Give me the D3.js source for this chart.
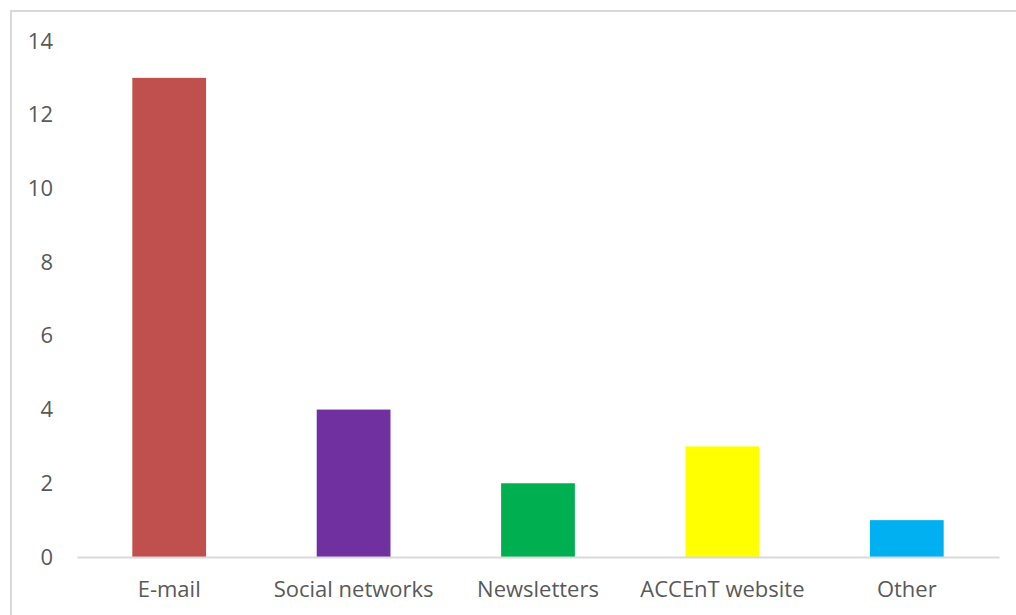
<!DOCTYPE html>
<html>
<head>
<meta charset="utf-8">
<script src="https://cdn.jsdelivr.net/npm/d3@7"></script>
<style>
  html, body { margin: 0; padding: 0; background: #fff; }
  svg { display: block; }
  text { font-family: "Open Sans", Lato, sans-serif; fill: #595959; }
</style>
</head>
<body>
<svg id="chart" width="1016" height="615"></svg>
<script>
// Channels through which respondents heard about the event
const categories = ["E-mail", "Social networks", "Newsletters", "ACCEnT website", "Other"];
const counts = [13, 4, 2, 3, 1];
const barColors = ["#c0504d", "#7030a0", "#00b050", "#ffff00", "#00b0f0"];
const yTicks = [0, 2, 4, 6, 8, 10, 12, 14];

const svg = d3.select("#chart");
const W = 1016, H = 615;

// outer frame (open at right/bottom where the canvas ends)
svg.append("rect")
  .attr("x", 11).attr("y", 11)
  .attr("width", W + 10).attr("height", H + 10)
  .attr("fill", "none").attr("stroke", "#d9d9d9").attr("stroke-width", 2);

const plot = { left: 77, right: 999, top: 41, bottom: 557 };

const x = d3.scaleBand()
  .domain(categories)
  .range([plot.left, plot.right])
  .paddingInner(0.6)
  .paddingOuter(0.3);

const y = d3.scaleLinear()
  .domain([0, 14])
  .range([plot.bottom, plot.top]);

// bars
svg.append("g").selectAll("rect")
  .data(categories)
  .join("rect")
  .attr("x", d => x(d))
  .attr("y", (d, i) => y(counts[i]))
  .attr("width", x.bandwidth())
  .attr("height", (d, i) => y(0) - y(counts[i]))
  .attr("fill", (d, i) => barColors[i]);

// category axis
const xAxis = svg.append("g")
  .attr("transform", `translate(0,${plot.bottom})`)
  .call(d3.axisBottom(x).tickSize(0).tickPadding(24).tickSizeOuter(0));
xAxis.select(".domain").attr("stroke", "#d9d9d9").attr("stroke-width", 2);
xAxis.selectAll("text")
  .style("font-size", "22px").attr("fill", "#595959");

// value axis labels only
const yAxis = svg.append("g")
  .attr("transform", `translate(53,0)`)
  .call(d3.axisLeft(y).tickValues(yTicks).tickSize(0).tickPadding(0));
yAxis.select(".domain").remove();
yAxis.selectAll("text")
  .style("font-size", "22px").attr("fill", "#595959");
</script>
</body>
</html>
